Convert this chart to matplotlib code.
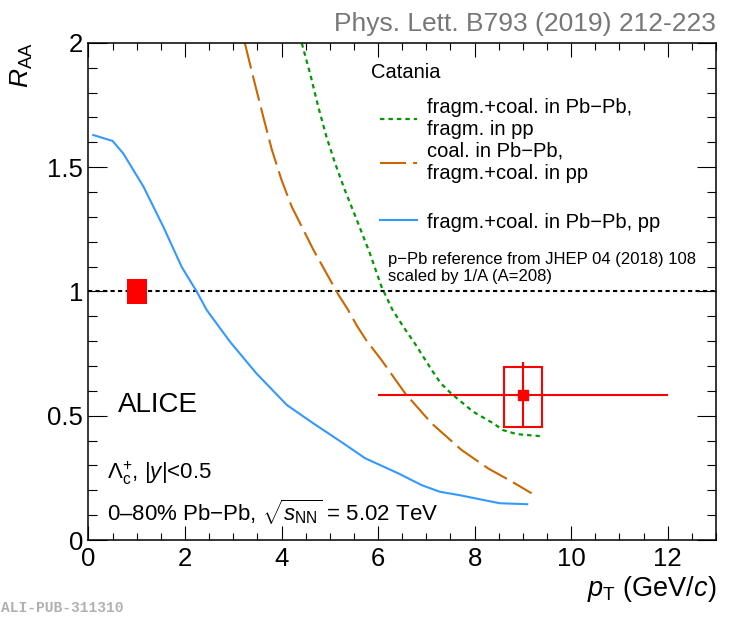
"""
Lambda_c+ R_AA in 0-80% Pb-Pb at 5.02 TeV compared with Catania model curves.
Output: out.png
"""
import matplotlib
matplotlib.use("Agg")
import matplotlib.pyplot as plt
from matplotlib.patches import Rectangle
from matplotlib.ticker import MultipleLocator

plt.rcParams["font.family"] = ["Liberation Sans", "DejaVu Sans"]
plt.rcParams["mathtext.fontset"] = "custom"
plt.rcParams["mathtext.rm"] = "Liberation Sans"
plt.rcParams["mathtext.it"] = "Liberation Sans:italic"
plt.rcParams["mathtext.bf"] = "Liberation Sans:bold"

# measured point (pT bin 6-12 GeV/c)
data_pt = [9.0]
data_pt_lo = [3.0]
data_pt_hi = [3.0]
data_raa = [0.585]
stat_lo = [0.13]
stat_hi = [0.13]
syst_lo = [0.132]
syst_hi = [0.110]
syst_halfwidth = 0.4

# normalisation uncertainty box at R_AA = 1
norm_pt = [1.0]
norm_halfwidth = 0.21
norm_unc = [0.05]

# Catania: fragm.+coal. in Pb-Pb, fragm. in pp
green_pt = [4.42, 4.59, 4.76, 4.93, 5.11, 5.31, 5.56, 5.83, 6.07, 6.30, 6.55, 6.76,
            7.11, 7.30, 7.51, 7.97, 8.39, 8.59, 8.87, 9.35]
green_raa = [1.998, 1.877, 1.743, 1.622, 1.515, 1.408, 1.287, 1.153, 1.019, 0.925, 0.850,
             0.791, 0.684, 0.630, 0.590, 0.516, 0.469, 0.442, 0.426, 0.418]

# Catania: coal. in Pb-Pb, fragm.+coal. in pp
orange_pt = [3.24, 3.41, 3.62, 3.80, 4.00, 4.21, 4.42, 4.66, 4.93, 5.18, 5.38, 5.56,
             5.75, 6.07, 6.56, 7.11, 7.73, 8.28, 8.77, 9.18]
orange_raa = [1.998, 1.864, 1.703, 1.569, 1.448, 1.341, 1.260, 1.167, 1.073, 0.986, 0.925,
              0.862, 0.805, 0.724, 0.590, 0.469, 0.362, 0.288, 0.235, 0.188]

# Catania: fragm.+coal. in Pb-Pb, pp
blue_pt = [0.10, 0.50, 0.72, 1.14, 1.55, 1.93, 2.24, 2.45, 2.93, 3.48, 4.11, 4.66,
           5.28, 5.73, 6.42, 6.90, 7.28, 7.70, 8.08, 8.52, 9.09]
blue_raa = [1.629, 1.605, 1.555, 1.421, 1.260, 1.099, 1.000, 0.925, 0.798, 0.670, 0.543,
            0.469, 0.389, 0.329, 0.268, 0.221, 0.194, 0.180, 0.165, 0.148, 0.144]

RED = "#ff0000"
GREEN = "#009900"
ORANGE = "#cc6600"
BLUE = "#3399ff"

fig = plt.figure(figsize=(7.3, 6.2), dpi=100)
ax = fig.add_axes([0.1212, 0.129, 0.8596, 0.802])

ax.axhline(1.0, color="black", lw=1.5, ls=(0, (2, 1.6)), zorder=1)

l_green, = ax.plot(green_pt, green_raa, color=GREEN, lw=1.6, ls=(0, (2.0, 1.8)),
                   label="fragm.+coal. in Pb\u2212Pb,\nfragm. in pp")
l_orange, = ax.plot(orange_pt, orange_raa, color=ORANGE, lw=1.5, ls=(0, (12.5, 3.4)),
                    label="coal. in Pb\u2212Pb,\nfragm.+coal. in pp")
l_blue, = ax.plot(blue_pt, blue_raa, color=BLUE, lw=1.5,
                  label="fragm.+coal. in Pb\u2212Pb, pp")

# normalisation box
for x, u in zip(norm_pt, norm_unc):
    ax.add_patch(Rectangle((x - norm_halfwidth, 1 - u), 2 * norm_halfwidth, 2 * u,
                           facecolor=RED, edgecolor="none", zorder=3))

# systematic boxes
for x, y, lo, hi in zip(data_pt, data_raa, syst_lo, syst_hi):
    ax.add_patch(Rectangle((x - syst_halfwidth, y - lo), 2 * syst_halfwidth, lo + hi,
                           facecolor="none", edgecolor=RED, lw=1.5, zorder=4))

ax.errorbar(data_pt, data_raa, xerr=[data_pt_lo, data_pt_hi], yerr=[stat_lo, stat_hi],
            fmt="s", color=RED, ms=7.7, lw=1.5, capsize=0, zorder=5)

ax.set_xlim(0, 13)
ax.set_ylim(0, 2)
ax.xaxis.set_major_locator(MultipleLocator(2))
ax.xaxis.set_minor_locator(MultipleLocator(0.5))
ax.yaxis.set_major_locator(MultipleLocator(0.5))
ax.yaxis.set_minor_locator(MultipleLocator(0.1))
ax.yaxis.set_major_formatter(plt.FuncFormatter(lambda v, p: f"{v:g}"))
ax.xaxis.set_major_formatter(plt.FuncFormatter(lambda v, p: f"{v:g}"))
ax.tick_params(which="both", direction="in", top=True, right=True, width=0.8,
               labelsize=18.5)
ax.tick_params(axis="x", which="major", length=10, pad=5)
ax.tick_params(axis="x", which="minor", length=5)
ax.tick_params(axis="y", which="major", length=13.5, pad=4)
ax.tick_params(axis="y", which="minor", length=6.5)
for s in ax.spines.values():
    s.set_linewidth(1.1)

ax.set_xlabel("$p_{\\mathrm{T}}$ (GeV/$c$)", fontsize=19.5, loc="right")
ax.xaxis.set_label_coords(1.0, -0.068)
ax.set_ylabel("$R_{\\mathrm{AA}}$", fontsize=19, loc="top")
ax.yaxis.set_label_coords(-0.086, 1.0)

# legends
ax.text(0.451, 0.94, "Catania", transform=ax.transAxes, fontsize=14.5,
        ha="left", va="center")
leg1 = ax.legend(handles=[l_green, l_orange], loc="center left",
                 bbox_to_anchor=(0.4645, 0.804), frameon=False, fontsize=14.5,
                 handlelength=1.85, handletextpad=0.48, labelspacing=0.15,
                 borderpad=0, borderaxespad=0)
ax.add_artist(leg1)
ax.legend(handles=[l_blue], loc="center left", bbox_to_anchor=(0.4645, 0.6395),
          frameon=False, fontsize=14.5, handlelength=1.85, handletextpad=0.48,
          borderpad=0, borderaxespad=0)

ax.text(0.477, 0.547, "p\u2212Pb reference from JHEP 04 (2018) 108\nscaled by 1/A (A=208)",
        transform=ax.transAxes, fontsize=12, ha="left", va="center")

ax.text(0.047, 0.271, "ALICE", transform=ax.transAxes, fontsize=20,
        ha="left", va="center")
ax.text(0.0295, 0.135, "$\\Lambda_{\\mathrm{c}}^{+}$, |$y$|<0.5", transform=ax.transAxes,
        fontsize=16, ha="left", va="center")
ax.text(0.0295, 0.056, "0\u201380% Pb\u2212Pb, $\\sqrt{s_{\\mathrm{NN}}}$ = 5.02 TeV",
        transform=ax.transAxes, fontsize=16, ha="left", va="center")

fig.text(0.981, 0.95, "Phys. Lett. B793 (2019) 212-223", fontsize=19, color="#777777",
         ha="right", va="baseline")
fig.text(0.002, 0.019, "ALI-PUB-311310", fontsize=10.5, color="#b0b0b0",
         family="Liberation Mono", weight="bold", ha="left", va="center")

fig.savefig("out.png", dpi=100)
